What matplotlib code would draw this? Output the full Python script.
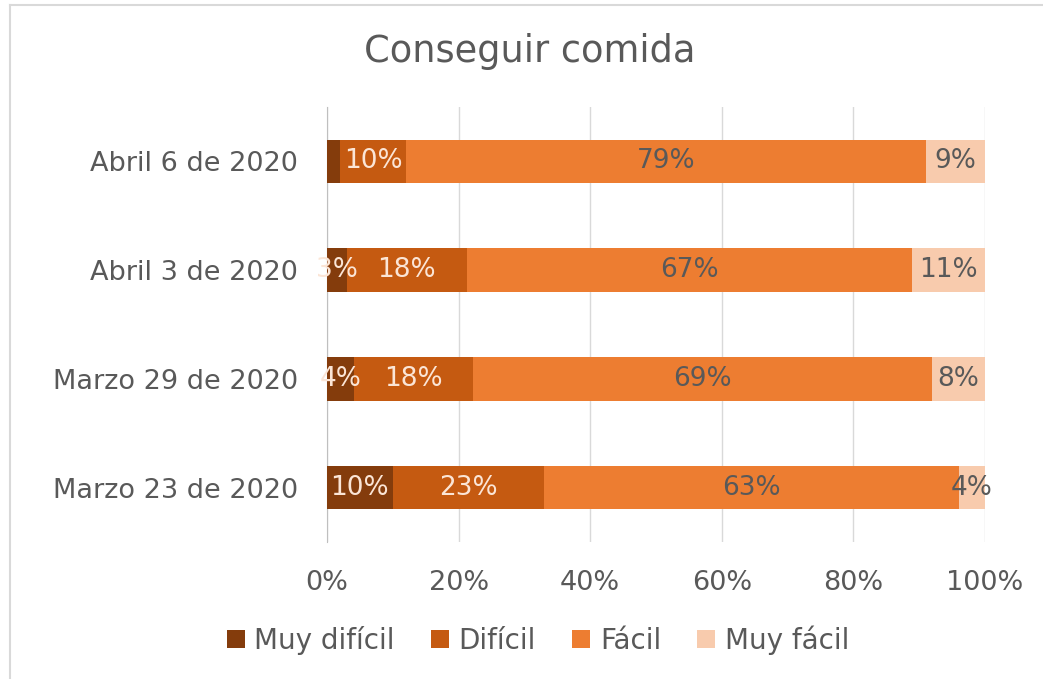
import matplotlib.pyplot as plt
from matplotlib.lines import Line2D
import numpy as np

plt.rcParams['font.family'] = ['DejaVu Sans']

categories = ["Marzo 23 de 2020", "Marzo 29 de 2020", "Abril 3 de 2020", "Abril 6 de 2020"]
series_names = ["Muy difícil", "Difícil", "Fácil", "Muy fácil"]
muy_dificil = [10, 4, 3, 2]
dificil = [23, 18, 18, 10]
facil = [63, 69, 67, 79]
muy_facil = [4, 8, 11, 9]
show_label = [[True, True, True, False],
              [True, True, True, True],
              [True, True, True, True],
              [True, True, True, True]]

colors = ["#843C0C", "#C55A11", "#ED7D31", "#F8CBAD"]
label_colors = ["#FBE5D6", "#FBE5D6", "#595959", "#595959"]

data = np.array([muy_dificil, dificil, facil, muy_facil], dtype=float)
shares = data / data.sum(axis=0) * 100

fig = plt.figure(figsize=(10.43, 6.79), dpi=100)
ax = fig.add_axes([0.3135, 0.2017, 0.631, 0.6407])

y = np.arange(len(categories))
left = np.zeros(len(categories))
for i, name in enumerate(series_names):
    ax.barh(y, shares[i], left=left, height=0.4, color=colors[i], label=name, zorder=3)
    for j in range(len(categories)):
        if show_label[i][j]:
            ax.text(left[j] + shares[i][j] / 2, y[j], f"{int(data[i][j])}%",
                    ha="center", va="center", fontsize=19, color=label_colors[i], zorder=4)
    left += shares[i]

ax.set_xlim(0, 100)
ax.set_ylim(-0.5, len(categories) - 0.5)
ax.set_xticks(np.arange(0, 101, 20))
ax.set_xticklabels([f"{v}%" for v in range(0, 101, 20)])
ax.set_yticks(y)
ax.set_yticklabels(categories)
ax.tick_params(axis="both", length=0, labelsize=19.5, labelcolor="#595959")
ax.tick_params(axis="x", pad=20)
ax.tick_params(axis="y", pad=21)
ax.grid(axis="x", color="#D9D9D9", linewidth=1, zorder=0)
for s in ["top", "right", "bottom"]:
    ax.spines[s].set_visible(False)
ax.spines["left"].set_color("#BFBFBF")

fig.text(530 / 1043, 1 - 52 / 679, "Conseguir comida", fontsize=26.5, color="#595959",
         ha="center", va="center")

fig.legend(loc="center", bbox_to_anchor=(538 / 1043, 1 - 640 / 679), ncol=4, frameon=False,
           fontsize=20, labelcolor="#595959", handlelength=0.65, handleheight=0.65,
           handletextpad=0.35, columnspacing=1.3)

fig.add_artist(Line2D([10 / 1043, 10 / 1043], [0, 1 - 5 / 679], color="#D9D9D9", lw=1.5))
fig.add_artist(Line2D([10 / 1043, 1], [1 - 5 / 679, 1 - 5 / 679], color="#D9D9D9", lw=1.5))

fig.savefig("out.png", dpi=100)
